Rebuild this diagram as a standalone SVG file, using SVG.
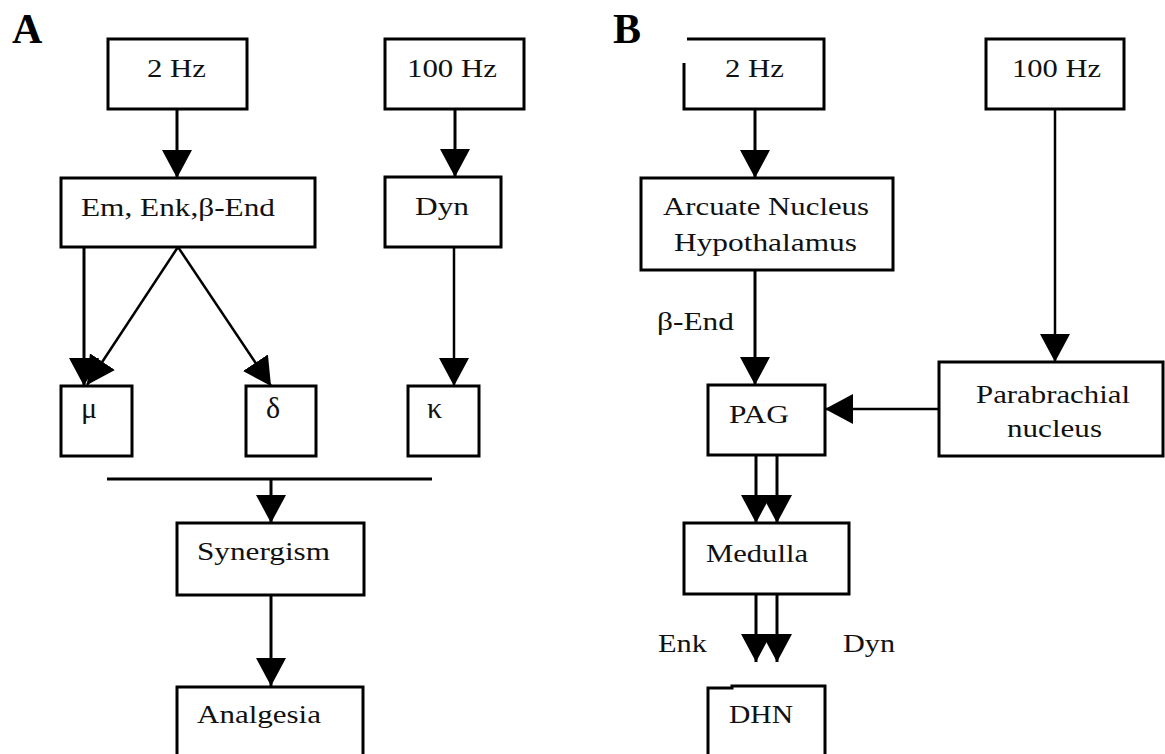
<svg xmlns="http://www.w3.org/2000/svg" width="1165" height="754" viewBox="0 0 1165 754">
<style>
.box{fill:#fff;stroke:#000;stroke-width:3}
.open{fill:none;stroke:#000;stroke-width:3}
.t{font-family:"Liberation Serif","Times New Roman",serif;font-size:26px;fill:#111}
.g{font-family:"Liberation Serif","Times New Roman",serif;font-size:30px;fill:#111}
.lbl{font-family:"Liberation Serif","Times New Roman",serif;font-size:42px;font-weight:bold;fill:#000}
.c{fill:none;stroke:#000;stroke-width:3}
.c2{fill:none;stroke:#000;stroke-width:2.5}
.arr{marker-end:url(#ah)}
</style>
<defs>
<marker id="ah" markerUnits="userSpaceOnUse" markerWidth="30" markerHeight="30" refX="28" refY="15" orient="auto" viewBox="0 0 30 30">
<path d="M0,0 L28,15 L0,30 z" fill="#000"/>
</marker>
</defs>
<rect width="1165" height="754" fill="#fff"/>
<text class="lbl" x="12" y="43">A</text>
<text class="lbl" x="613" y="43">B</text>
<g id="connectors">
<line class="c arr" x1="177" y1="109" x2="177" y2="178"/>
<line class="c arr" x1="455" y1="109" x2="455" y2="177"/>
<line class="c arr" x1="84" y1="247" x2="84" y2="386"/>
<line class="c2 arr" x1="178" y1="247" x2="87" y2="385"/>
<line class="c2 arr" x1="178" y1="247" x2="271" y2="386"/>
<line class="c2 arr" x1="454" y1="247" x2="454" y2="386"/>
<line class="c" x1="107" y1="479" x2="432" y2="479"/>
<line class="c arr" x1="271" y1="479" x2="271" y2="523"/>
<line class="c arr" x1="271" y1="595" x2="271" y2="686"/>
<line class="c arr" x1="755" y1="109" x2="755" y2="178"/>
<line class="c arr" x1="755" y1="270" x2="755" y2="385"/>
<line class="c2 arr" x1="1055" y1="109" x2="1055" y2="362"/>
<line class="c2 arr" x1="939" y1="409" x2="825" y2="409"/>
<line class="c arr" x1="756" y1="455" x2="756" y2="523"/>
<line class="c arr" x1="777" y1="455" x2="777" y2="523"/>
<line class="c arr" x1="756" y1="594" x2="756" y2="662"/>
<line class="c arr" x1="777" y1="594" x2="777" y2="662"/>
</g>
<g id="a-2hz"><rect class="box" x="108" y="39" width="139" height="70"/><text class="t" x="147" y="77" textLength="59" lengthAdjust="spacingAndGlyphs">2 Hz</text></g>
<g id="a-100hz"><rect class="box" x="385" y="39" width="139" height="70"/><text class="t" x="407" y="77" textLength="90" lengthAdjust="spacingAndGlyphs">100 Hz</text></g>
<g id="a-em"><rect class="box" x="61" y="178" width="254" height="69"/><text class="t" x="81" y="216" textLength="194" lengthAdjust="spacingAndGlyphs">Em, Enk,β-End</text></g>
<g id="a-dyn"><rect class="box" x="385" y="177" width="116" height="70"/><text class="t" x="415" y="215" textLength="54" lengthAdjust="spacingAndGlyphs">Dyn</text></g>
<g id="a-mu"><rect class="box" x="61" y="386" width="71" height="70"/><text class="g" x="81" y="418">μ</text></g>
<g id="a-delta"><rect class="box" x="246" y="386" width="70" height="70"/><text class="g" x="266" y="418">δ</text></g>
<g id="a-kappa"><rect class="box" x="408" y="386" width="71" height="70"/><text class="g" x="427" y="418">κ</text></g>
<g id="a-synergism"><rect class="box" x="177" y="523" width="187" height="72"/><text class="t" x="197" y="560" textLength="133" lengthAdjust="spacingAndGlyphs">Synergism</text></g>
<g id="a-analgesia"><path class="open" d="M177,756 V687 H363 V756"/><text class="t" x="197" y="723" textLength="124" lengthAdjust="spacingAndGlyphs">Analgesia</text></g>
<g id="b-2hz"><path class="open" d="M687,39 H824 V109 H684 V63"/><text class="t" x="725" y="77" textLength="59" lengthAdjust="spacingAndGlyphs">2 Hz</text></g>
<g id="b-100hz"><rect class="box" x="986" y="39" width="138" height="70"/><text class="t" x="1012" y="77" textLength="89" lengthAdjust="spacingAndGlyphs">100 Hz</text></g>
<g id="b-arcuate"><rect class="box" x="641" y="178" width="252" height="92"/><text class="t" x="663" y="215" textLength="206" lengthAdjust="spacingAndGlyphs">Arcuate Nucleus</text><text class="t" x="674" y="251" textLength="183" lengthAdjust="spacingAndGlyphs">Hypothalamus</text></g>
<g id="b-bend-label"><text class="t" x="657" y="330" textLength="77" lengthAdjust="spacingAndGlyphs">β-End</text></g>
<g id="b-pag"><rect class="box" x="708" y="385" width="117" height="70"/><text class="t" x="729" y="423" textLength="60" lengthAdjust="spacingAndGlyphs">PAG</text></g>
<g id="b-parabrachial"><rect class="box" x="939" y="362" width="224" height="94"/><text class="t" x="976" y="403" textLength="154" lengthAdjust="spacingAndGlyphs">Parabrachial</text><text class="t" x="1007" y="437" textLength="95" lengthAdjust="spacingAndGlyphs">nucleus</text></g>
<g id="b-medulla"><rect class="box" x="684" y="523" width="165" height="71"/><text class="t" x="706" y="562" textLength="102" lengthAdjust="spacingAndGlyphs">Medulla</text></g>
<g id="b-enk-label"><text class="t" x="658" y="652" textLength="49" lengthAdjust="spacingAndGlyphs">Enk</text></g>
<g id="b-dyn-label"><text class="t" x="843" y="652" textLength="52" lengthAdjust="spacingAndGlyphs">Dyn</text></g>
<g id="b-dhn"><path class="open" d="M708,756 V688 H732 V686 H825 V756"/><text class="t" x="729" y="723" textLength="64" lengthAdjust="spacingAndGlyphs">DHN</text></g>
</svg>
